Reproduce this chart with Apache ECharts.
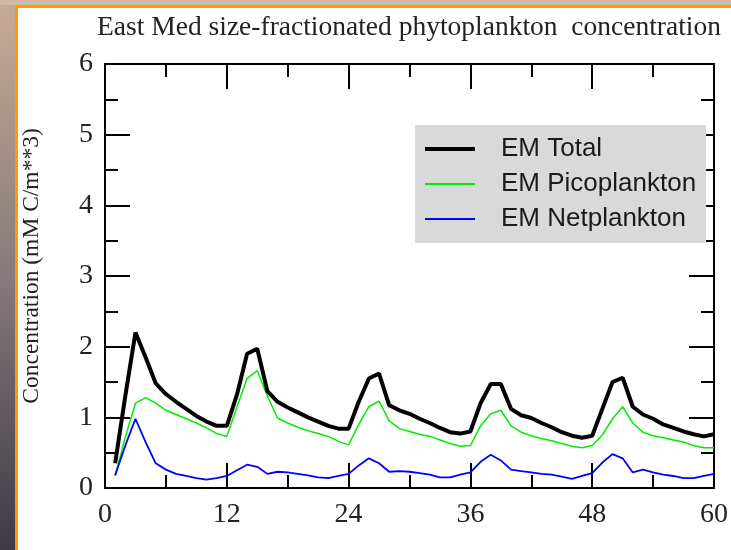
<!DOCTYPE html>
<html><head><meta charset="utf-8">
<script src="https://cdn.jsdelivr.net/npm/echarts@6/dist/echarts.min.js"></script>
<style>html,body{margin:0;padding:0;background:#fff}#c{width:731px;height:550px}</style>
</head><body><div id="c"></div><script>
const titleText = 'East Med size-fractionated phytoplankton  concentration';
const yName = 'Concentration (mM C/m**3)';
const seriesNames = ['EM Total', 'EM Picoplankton', 'EM Netplankton'];
const xTicks = [0, 12, 24, 36, 48, 60];
const yTicks = [0, 1, 2, 3, 4, 5, 6];
const months = [1,2,3,4,5,6,7,8,9,10,11,12,13,14,15,16,17,18,19,20,21,22,23,24,25,26,27,28,29,30,31,32,33,34,35,36,37,38,39,40,41,42,43,44,45,46,47,48,49,50,51,52,53,54,55,56,57,58,59,60];
const total = [0.35,1.3,2.2,1.85,1.48,1.33,1.22,1.12,1.02,0.94,0.88,0.88,
  1.32,1.9,1.97,1.37,1.22,1.14,1.07,1.0,0.94,0.88,0.84,0.84,
  1.22,1.55,1.62,1.17,1.1,1.05,0.98,0.92,0.85,0.79,0.77,0.8,
  1.2,1.47,1.47,1.12,1.03,0.99,0.92,0.86,0.79,0.74,0.71,0.74,
  1.12,1.5,1.56,1.15,1.04,0.98,0.9,0.85,0.8,0.76,0.73,0.76];
const pico = [0.17,0.72,1.2,1.28,1.2,1.1,1.04,0.98,0.92,0.85,0.77,0.73,
  1.15,1.55,1.66,1.3,0.99,0.92,0.86,0.81,0.77,0.73,0.66,0.61,
  0.9,1.15,1.23,0.95,0.84,0.8,0.76,0.73,0.68,0.63,0.59,0.6,
  0.88,1.05,1.1,0.88,0.79,0.74,0.7,0.67,0.63,0.59,0.57,0.6,
  0.75,0.98,1.15,0.92,0.79,0.74,0.71,0.68,0.65,0.6,0.57,0.57];
const net = [0.18,0.6,0.98,0.65,0.35,0.26,0.2,0.17,0.14,0.12,0.14,0.17,
  0.25,0.33,0.3,0.2,0.23,0.22,0.2,0.18,0.15,0.14,0.17,0.2,
  0.32,0.42,0.35,0.23,0.24,0.23,0.21,0.19,0.15,0.15,0.19,0.22,
  0.37,0.47,0.39,0.26,0.24,0.22,0.2,0.19,0.16,0.13,0.17,0.21,
  0.36,0.48,0.42,0.22,0.26,0.22,0.19,0.17,0.14,0.14,0.17,0.2];

const pair = arr => months.map((m, i) => [m, arr[i]]);
const chart = echarts.init(document.getElementById('c'), null, {renderer: 'canvas'});
const tickStyle = {color: '#000', width: 2};
function xAx(pos, labels) {
  return {type: 'value', position: pos, min: xTicks[0], max: xTicks[xTicks.length-1], interval: 12,
    axisLine: {onZero: false, lineStyle: tickStyle},
    axisTick: {inside: true, length: 25, lineStyle: tickStyle},
    minorTick: {show: true, splitNumber: 2, length: 13, lineStyle: tickStyle},
    splitLine: {show: false},
    axisLabel: {show: labels, fontFamily: 'Liberation Serif', fontSize: 28, color: '#222', margin: 13}};
}
function yAx(pos, labels) {
  return {type: 'value', position: pos, min: yTicks[0], max: yTicks[yTicks.length-1], interval: 1,
    axisLine: {onZero: false, lineStyle: tickStyle},
    axisTick: {inside: true, length: 25, lineStyle: tickStyle},
    minorTick: {show: true, splitNumber: 2, length: 13, lineStyle: tickStyle},
    splitLine: {show: false},
    axisLabel: {show: labels, fontFamily: 'Liberation Serif', fontSize: 28, color: '#222', margin: 12}};
}
chart.setOption({
  animation: false,
  backgroundColor: '#fff',
  grid: {left: 105, right: 17, top: 64, bottom: 62},
  xAxis: [xAx('bottom', true), xAx('top', false)],
  yAxis: [yAx('left', true), yAx('right', false)],
  legend: {
    data: [
      {name: seriesNames[0], lineStyle: {width: 4}},
      {name: seriesNames[1], lineStyle: {width: 2}},
      {name: seriesNames[2], lineStyle: {width: 2}}
    ],
    orient: 'vertical', left: 415, top: 125,
    backgroundColor: '#d9d9d9', padding: [10, 10, 10, 8],
    itemWidth: 50, itemHeight: 2, itemGap: 7,
    itemStyle: {borderWidth: 0},
    textStyle: {fontFamily: 'Liberation Sans', fontSize: 26, color: '#1a1a1a', lineHeight: 28, padding: [0, 0, 0, 21]}
  },
  graphic: [
    {type: 'rect', z: -10, shape: {x: 0, y: 0, width: 15, height: 550},
      style: {fill: new echarts.graphic.LinearGradient(0, 0, 0, 1, [
        {offset: 0, color: '#c9ab94'}, {offset: 0.5, color: '#857a7c'}, {offset: 1, color: '#3e3a44'}])}},
    {type: 'rect', z: -10, shape: {x: 0, y: 0, width: 731, height: 5}, style: {fill: '#d2b9a5'}},
    {type: 'rect', z: -9, shape: {x: 15, y: 5, width: 3, height: 545}, style: {fill: '#ff9a00'}},
    {type: 'rect', z: -9, shape: {x: 15, y: 5, width: 716, height: 3}, style: {fill: '#ff9a00'}},
    {type: 'text', x: 409, y: 28, style: {text: titleText, fontFamily: 'Liberation Serif', fontSize: 27.5,
      fill: '#222', align: 'center', verticalAlign: 'middle'}},
    {type: 'text', x: 32, y: 266, rotation: Math.PI / 2, style: {text: yName, fontFamily: 'Liberation Serif',
      fontSize: 23.5, fill: '#222', align: 'center', verticalAlign: 'middle'}}
  ],
  series: [
    {name: seriesNames[0], type: 'line', data: pair(total), symbol: 'none', lineStyle: {color: '#000', width: 4}, itemStyle: {color: '#000'}, z: 3},
    {name: seriesNames[1], type: 'line', data: pair(pico), symbol: 'none', lineStyle: {color: '#00ee00', width: 1.5}, itemStyle: {color: '#00ee00'}, z: 2},
    {name: seriesNames[2], type: 'line', data: pair(net), symbol: 'none', lineStyle: {color: '#0000ff', width: 1.8}, itemStyle: {color: '#0000ff'}, z: 2}
  ]
});
</script></body></html>
